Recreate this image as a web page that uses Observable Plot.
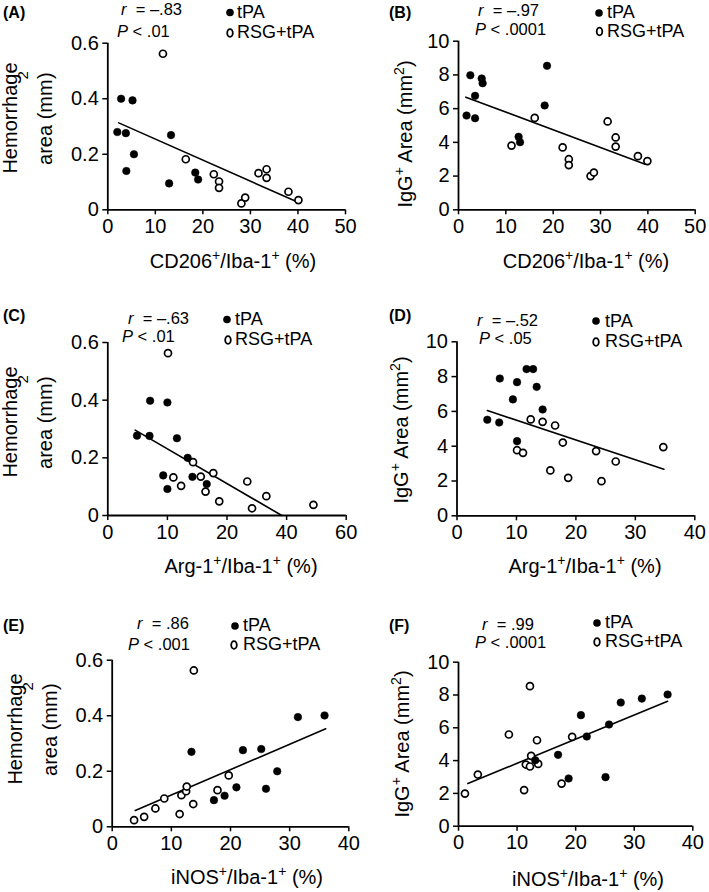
<!DOCTYPE html>
<html><head><meta charset="utf-8">
<script src="https://cdn.jsdelivr.net/npm/d3@7"></script>
<script src="https://cdn.jsdelivr.net/npm/@observablehq/plot@0.6"></script>
<style>
html,body{margin:0;padding:0;background:#fff;}
#root{position:relative;width:709px;height:892px;overflow:hidden;font-family:"Liberation Sans",Arial,sans-serif;}
.panel{position:absolute;}
</style></head>
<body><div id="root"></div>
<script>
// ---------- tick values / labels ----------
const hemTicks = [0, 0.2, 0.4, 0.6];
const igTicks = [0, 2, 4, 6, 8, 10];
const cdTicks = [0, 10, 20, 30, 40, 50];
const argTicks = [0, 10, 20, 30, 40];
const argLabelsC = ["0", "10", "20", "40", "60"];
const inosTicks = [0, 10, 20, 30, 40];

// ---------- (A) Hemorrhage area vs CD206+/Iba-1+ ----------
const aTpaX = [2.0, 2.8, 3.8, 3.9, 5.2, 5.5, 13.3, 12.9, 18.4, 19.0];
const aTpaY = [0.28, 0.40, 0.276, 0.14, 0.394, 0.20, 0.269, 0.095, 0.134, 0.109];
const aRsgX = [11.6, 16.4, 22.3, 23.4, 23.4, 28.1, 28.9, 31.7, 33.4, 33.4, 38.0, 40.1];
const aRsgY = [0.562, 0.182, 0.128, 0.102, 0.079, 0.023, 0.044, 0.132, 0.146, 0.115, 0.065, 0.035];
const aFitX = [2.3, 39.9];
const aFitY = [0.313, 0.028];

// ---------- (B) IgG+ area vs CD206+/Iba-1+ ----------
const bTpaX = [1.7, 2.5, 3.5, 3.5, 4.9, 5.1, 12.7, 13.0, 18.2, 18.7];
const bTpaY = [5.59, 7.98, 6.76, 5.43, 7.79, 7.51, 4.33, 4.01, 6.19, 8.54];
const bRsgX = [11.2, 16.1, 22.0, 23.3, 23.3, 27.9, 28.6, 31.5, 33.2, 33.2, 37.9, 39.9];
const bRsgY = [3.81, 5.45, 3.70, 3.0, 2.65, 2.0, 2.21, 5.24, 4.29, 3.75, 3.18, 2.89];
const bFitX = [1.55, 39.3];
const bFitY = [6.68, 2.71];

// ---------- (C) Hemorrhage area vs Arg-1+/Iba-1+ ----------
const cTpaX = [4.9, 7.1, 7.0, 10.0, 9.3, 10.0, 11.6, 13.4, 14.2, 16.6];
const cTpaY = [0.277, 0.398, 0.276, 0.392, 0.139, 0.092, 0.268, 0.20, 0.134, 0.109];
const cRsgX = [10.1, 11.0, 12.3, 14.3, 15.6, 16.4, 17.7, 18.7, 23.4, 24.2, 26.6, 34.5];
const cRsgY = [0.563, 0.132, 0.103, 0.185, 0.135, 0.083, 0.147, 0.049, 0.118, 0.025, 0.067, 0.037];
const cFitX = [4.6, 29.2];
const cFitY = [0.296, 0];

// ---------- (D) IgG+ area vs Arg-1+/Iba-1+ ----------
const dTpaX = [5.1, 7.2, 7.1, 9.4, 10.1, 10.1, 11.7, 12.8, 13.4, 14.4];
const dTpaY = [5.52, 7.89, 5.36, 6.69, 7.68, 4.29, 8.43, 8.43, 7.41, 6.11];
const dRsgX = [10.1, 11.1, 12.4, 14.4, 15.7, 16.5, 17.8, 18.7, 23.4, 24.3, 26.7, 34.7];
const dRsgY = [3.77, 3.62, 5.54, 5.40, 2.61, 5.19, 4.21, 2.18, 3.72, 1.99, 3.12, 3.95];
const dFitX = [5.1, 34.8];
const dFitY = [6.05, 2.68];

// ---------- (E) Hemorrhage area vs iNOS+/Iba-1+ ----------
const eTpaX = [13.4, 17.2, 19.0, 21.0, 22.1, 25.2, 26.0, 27.9, 31.4, 35.9];
const eTpaY = [0.27, 0.096, 0.112, 0.142, 0.276, 0.28, 0.137, 0.2, 0.395, 0.401];
const eRsgX = [3.7, 5.4, 7.3, 8.8, 11.4, 11.7, 12.5, 12.6, 13.7, 13.8, 17.8, 19.7];
const eRsgY = [0.024, 0.036, 0.066, 0.102, 0.046, 0.114, 0.128, 0.145, 0.082, 0.563, 0.132, 0.185];
const eFitX = [3.9, 36.1];
const eFitY = [0.059, 0.353];

// ---------- (F) IgG+ area vs iNOS+/Iba-1+ ----------
const fTpaX = [13.1, 17.0, 18.8, 20.9, 21.9, 25.1, 25.7, 27.7, 31.3, 35.7];
const fTpaY = [4.02, 4.35, 2.91, 6.77, 5.47, 2.99, 6.2, 7.54, 7.78, 8.03];
const fRsgX = [1.1, 3.3, 8.6, 11.2, 11.5, 12.2, 12.2, 12.4, 13.4, 13.6, 17.6, 19.4];
const fRsgY = [1.99, 3.15, 5.59, 2.2, 3.76, 3.64, 8.54, 4.29, 5.24, 3.8, 2.6, 5.45];
const fFitX = [1.6, 35.7];
const fFitY = [2.6, 7.62];

// ---------- text ----------
const groupNames = ["tPA", "RSG+tPA"];
const panelLabels = ["(A)", "(B)", "(C)", "(D)", "(E)", "(F)"];
const rValues = ["\u2013.83", "\u2013.97", "\u2013.63", "\u2013.52", ".86", ".99"];
const pValues = [".01", ".0001", ".01", ".05", ".001", ".0001"];
const xTitleBase = ["CD206", "CD206", "Arg-1", "Arg-1", "iNOS", "iNOS"];

const FONT = '"Liberation Sans", Arial, Helvetica, sans-serif';
const fmtHem = d => d === 0 ? "0" : d.toFixed(1);
const fmtInt = d => String(d);

const panels = [
  {id: 0, left: 0, top: 0, w: 354, h: 297, ml: 107.3, mr: 9, mt: 42.7, mb: 87.7,
   xDomain: [0, 50], yDomain: [0, 0.6], xTicks: cdTicks, yTicks: hemTicks, xFmt: fmtInt, yFmt: fmtHem,
   tpa: d3.zip(aTpaX, aTpaY), rsg: d3.zip(aRsgX, aRsgY), fit: d3.zip(aFitX, aFitY), yKind: "hem",
   lab: [3, 18], r: [121, 15], p: [117, 37], dot: [230, 12.5], open: [230, 33], legX: 237, leg1: 18, leg2: 38,
   xt: [233, 268], yt: {x1: 17, x2: 52, cy: 118}},
  {id: 1, left: 354, top: 0, w: 355, h: 297, ml: 104, mr: 14.3, mt: 40.7, mb: 87.7,
   xDomain: [0, 50], yDomain: [0, 10], xTicks: cdTicks, yTicks: igTicks, xFmt: fmtInt, yFmt: fmtInt,
   tpa: d3.zip(bTpaX, bTpaY), rsg: d3.zip(bRsgX, bRsgY), fit: d3.zip(bFitX, bFitY), yKind: "igg",
   lab: [35, 18], r: [124, 16], p: [121, 35], dot: [245, 13], open: [245.5, 31.5], legX: 253, leg1: 18, leg2: 37,
   xt: [232, 268], yt: {x1: 58, cy: 134}},
  {id: 2, left: 0, top: 297, w: 354, h: 297, ml: 107.3, mr: 8.3, mt: 45, mb: 79,
   xDomain: [0, 40], yDomain: [0, 0.6], xTicks: argTicks, yTicks: hemTicks,
   xFmt: d => argLabelsC[argTicks.indexOf(d)], yFmt: fmtHem,
   tpa: d3.zip(cTpaX, cTpaY), rsg: d3.zip(cRsgX, cRsgY), fit: d3.zip(cFitX, cFitY), yKind: "hem",
   lab: [3, 24], r: [128, 27], p: [122, 45], dot: [227, 22.5], open: [228, 43], legX: 235, leg1: 28, leg2: 48,
   xt: [241, 276], yt: {x1: 17, x2: 52, cy: 125}},
  {id: 3, left: 354, top: 297, w: 355, h: 297, ml: 102.5, mr: 14.7, mt: 44.3, mb: 78.7,
   xDomain: [0, 40], yDomain: [0, 10], xTicks: argTicks, yTicks: igTicks, xFmt: fmtInt, yFmt: fmtInt,
   tpa: d3.zip(dTpaX, dTpaY), rsg: d3.zip(dRsgX, dRsgY), fit: d3.zip(dFitX, dFitY), yKind: "igg",
   lab: [35, 24], r: [123, 29], p: [125, 46.5], dot: [242, 24], open: [242, 45], legX: 251, leg1: 30, leg2: 50,
   xt: [231, 276], yt: {x1: 54, cy: 133}},
  {id: 4, left: 0, top: 594, w: 354, h: 298, ml: 111.7, mr: 5.7, mt: 65.7, mb: 65.7,
   xDomain: [0, 40], yDomain: [0, 0.6], xTicks: inosTicks, yTicks: hemTicks, xFmt: fmtInt, yFmt: fmtHem,
   tpa: d3.zip(eTpaX, eTpaY), rsg: d3.zip(eRsgX, eRsgY), fit: d3.zip(eFitX, eFitY), yKind: "hem",
   lab: [3, 37], r: [137, 35], p: [128, 56], dot: [235, 32], open: [234, 51], legX: 243, leg1: 37, leg2: 56,
   xt: [247, 290], yt: {x1: 22, x2: 57, cy: 135}},
  {id: 5, left: 354, top: 594, w: 355, h: 298, ml: 104, mr: 16.7, mt: 67.7, mb: 66.3,
   xDomain: [0, 40], yDomain: [0, 10], xTicks: inosTicks, yTicks: igTicks, xFmt: fmtInt, yFmt: fmtInt,
   tpa: d3.zip(fTpaX, fTpaY), rsg: d3.zip(fRsgX, fRsgY), fit: d3.zip(fFitX, fFitY), yKind: "igg",
   lab: [35, 37], r: [128, 36], p: [121, 54], dot: [243, 29], open: [243, 48], legX: 251, leg1: 34, leg2: 53,
   xt: [234, 292], yt: {x1: 55, cy: 150}}
];

const root = document.getElementById("root");

function addParts(sel, parts) {
  for (const p of parts) {
    const t = sel.append("tspan").text(p.t);
    if (p.italic) t.attr("font-style", "italic");
    if (p.size) t.attr("font-size", p.size);
    if (p.dy) t.attr("dy", p.dy);
    if (p.dx) t.attr("dx", p.dx);
  }
}

for (const c of panels) {
  const svg = Plot.plot({
    width: c.w, height: c.h,
    marginLeft: c.ml, marginRight: c.mr, marginTop: c.mt, marginBottom: c.mb,
    style: {fontFamily: FONT, fontSize: "20px", color: "#000", background: "transparent", overflow: "visible"},
    x: {domain: c.xDomain},
    y: {domain: c.yDomain},
    marks: [
      Plot.axisX({ticks: c.xTicks, tickFormat: c.xFmt, tickSize: 5, tickPadding: 4, label: null, strokeWidth: 1.5, fontSize: 20}),
      Plot.axisY({ticks: c.yTicks, tickFormat: c.yFmt, tickSize: 5, tickPadding: 4, label: null, strokeWidth: 1.5, fontSize: 20}),
      Plot.ruleY([c.yDomain[0]], {stroke: "#000", strokeWidth: 1.8}),
      Plot.ruleX([c.xDomain[0]], {stroke: "#000", strokeWidth: 1.8}),
      Plot.line(c.fit, {x: d => d[0], y: d => d[1], stroke: "#000", strokeWidth: 1.6}),
      Plot.dot(c.rsg, {x: d => d[0], y: d => d[1], r: 3.5, fill: "#fff", stroke: "#000", strokeWidth: 1.7}),
      Plot.dot(c.tpa, {x: d => d[0], y: d => d[1], r: 3.8, fill: "#000", stroke: "#000", strokeWidth: 0.5})
    ]
  });
  const div = document.createElement("div");
  div.className = "panel";
  div.style.left = c.left + "px";
  div.style.top = c.top + "px";
  div.appendChild(svg);
  root.appendChild(div);

  const s = d3.select(svg);
  const g = s.append("g").attr("font-family", FONT).attr("fill", "#000").attr("text-anchor", "start");
  // panel label
  g.append("text").attr("x", c.lab[0]).attr("y", c.lab[1]).attr("font-size", 16).attr("font-weight", "bold").text(panelLabels[c.id]);
  // statistics
  addParts(g.append("text").attr("x", c.r[0]).attr("y", c.r[1]).attr("font-size", 16.5).attr("xml:space", "preserve"),
    [{t: "r", italic: true}, {t: "  = " + rValues[c.id]}]);
  addParts(g.append("text").attr("x", c.p[0]).attr("y", c.p[1]).attr("font-size", 16.5),
    [{t: "P", italic: true}, {t: " < " + pValues[c.id]}]);
  // legend
  g.append("circle").attr("cx", c.dot[0]).attr("cy", c.dot[1]).attr("r", 3.8).attr("fill", "#000");
  g.append("ellipse").attr("cx", c.open[0]).attr("cy", c.open[1]).attr("rx", 2.8).attr("ry", 3.8)
    .attr("fill", "#fff").attr("stroke", "#000").attr("stroke-width", 1.8);
  g.append("text").attr("x", c.legX).attr("y", c.leg1).attr("font-size", 18).text(groupNames[0]);
  g.append("text").attr("x", c.legX).attr("y", c.leg2).attr("font-size", 18).text(groupNames[1]);
  // x title
  addParts(g.append("text").attr("x", c.xt[0]).attr("y", c.xt[1]).attr("font-size", 20).attr("text-anchor", "middle"),
    [{t: xTitleBase[c.id]}, {t: "+", size: 14, dy: -8}, {t: "/Iba-1", dy: 8}, {t: "+", size: 14, dy: -8}, {t: " (%)", dy: 8}]);
  // y title
  if (c.yKind === "hem") {
    g.append("text").attr("transform", `translate(${c.yt.x1},${c.yt.cy}) rotate(-90)`)
      .attr("text-anchor", "middle").attr("font-size", 20).text("Hemorrhage");
    addParts(g.append("text").attr("transform", `translate(${c.yt.x2},${c.yt.cy}) rotate(-90)`)
      .attr("text-anchor", "middle").attr("font-size", 20),
      [{t: "area (mm"}, {t: "2", size: 15, dy: -24}, {t: ")", dx: -8, dy: 24}]);
  } else {
    addParts(g.append("text").attr("transform", `translate(${c.yt.x1},${c.yt.cy}) rotate(-90)`)
      .attr("text-anchor", "middle").attr("font-size", 20),
      [{t: "IgG"}, {t: "+", size: 14, dy: -8}, {t: " Area (mm", dy: 8}, {t: "2", size: 14, dy: -8}, {t: ")", dy: 8}]);
  }
}
</script>
</body></html>
